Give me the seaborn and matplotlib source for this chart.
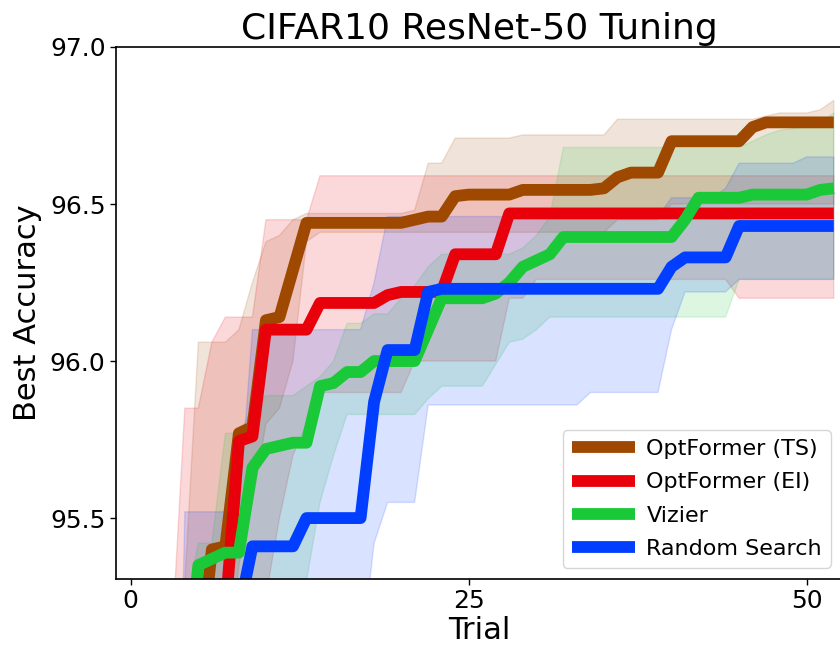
import numpy as np
import pandas as pd
import matplotlib
matplotlib.use("Agg")
import matplotlib.pyplot as plt
import seaborn as sns

# ---------------- data ----------------
trials = list(range(53))
series_names = ["OptFormer (TS)", "OptFormer (EI)", "Vizier", "Random Search"]

ts_mean = [93.8, 94.2, 94.5, 94.7, 94.9, 95.0, 95.40, 95.41, 95.77, 95.79,
           96.13, 96.14, 96.29, 96.44, 96.44, 96.44, 96.44, 96.44, 96.44, 96.44,
           96.44, 96.45, 96.46, 96.46, 96.525, 96.53, 96.53, 96.53, 96.53, 96.545,
           96.545, 96.545, 96.545, 96.545, 96.545, 96.55, 96.585, 96.60, 96.60, 96.60,
           96.70, 96.70, 96.70, 96.70, 96.70, 96.70, 96.745, 96.76, 96.76, 96.76,
           96.76, 96.76, 96.76]
ts_low = [92.5, 93.0, 93.4, 93.7, 94.0, 94.3, 94.6, 94.9, 95.35, 95.55,
          95.80, 95.85, 96.00, 96.38, 96.41, 96.41, 96.41, 96.41, 96.41, 96.41,
          96.41, 96.41, 96.41, 96.41, 96.41, 96.41, 96.41, 96.41, 96.41, 96.41,
          96.41, 96.41, 96.41, 96.41, 96.41, 96.41, 96.45, 96.45, 96.45, 96.45,
          96.50, 96.50, 96.50, 96.50, 96.50, 96.50, 96.50, 96.50, 96.50, 96.50,
          96.50, 96.50, 96.50]
ts_high = [94.5, 94.8, 95.0, 95.2, 95.3, 96.06, 96.06, 96.06, 96.10, 96.25,
           96.38, 96.40, 96.45, 96.47, 96.47, 96.47, 96.47, 96.47, 96.47, 96.47,
           96.47, 96.48, 96.63, 96.63, 96.71, 96.71, 96.71, 96.71, 96.71, 96.72,
           96.72, 96.72, 96.72, 96.72, 96.72, 96.72, 96.77, 96.77, 96.77, 96.77,
           96.77, 96.77, 96.77, 96.77, 96.77, 96.77, 96.77, 96.78, 96.79, 96.79,
           96.79, 96.80, 96.83]

ei_mean = [93.5, 93.9, 94.2, 94.5, 94.7, 94.9, 95.05, 95.2, 95.745, 95.76,
           96.10, 96.10, 96.10, 96.10, 96.185, 96.185, 96.185, 96.185, 96.185, 96.21,
           96.22, 96.22, 96.22, 96.22, 96.34, 96.34, 96.34, 96.34, 96.47, 96.47,
           96.47, 96.47, 96.47, 96.47, 96.47, 96.47, 96.47, 96.47, 96.47, 96.47,
           96.47, 96.47, 96.47, 96.47, 96.47, 96.47, 96.47, 96.47, 96.47, 96.47,
           96.47, 96.47, 96.47]
ei_low = [93.0, 93.3, 93.6, 93.9, 94.2, 94.5, 94.7, 94.9, 95.0, 95.1,
          95.25, 95.5, 95.7, 95.8, 95.9, 95.9, 95.9, 95.9, 95.9, 95.9,
          95.9, 96.0, 96.0, 96.0, 96.0, 96.0, 96.0, 96.0, 96.2, 96.2,
          96.26, 96.26, 96.26, 96.26, 96.26, 96.26, 96.26, 96.26, 96.26, 96.26,
          96.26, 96.26, 96.26, 96.26, 96.26, 96.20, 96.20, 96.20, 96.20, 96.20,
          96.20, 96.20, 96.20]
ei_high = [94.5, 94.8, 95.0, 95.08, 95.85, 95.85, 96.06, 96.14, 96.14, 96.14,
           96.45, 96.45, 96.45, 96.45, 96.59, 96.59, 96.59, 96.59, 96.59, 96.59,
           96.59, 96.59, 96.59, 96.59, 96.59, 96.59, 96.59, 96.59, 96.59, 96.59,
           96.59, 96.59, 96.59, 96.59, 96.59, 96.59, 96.59, 96.59, 96.59, 96.59,
           96.59, 96.59, 96.59, 96.59, 96.59, 96.59, 96.59, 96.59, 96.59, 96.59,
           96.59, 96.59, 96.59]

viz_mean = [94.6, 94.7, 94.8, 94.85, 94.9, 95.35, 95.37, 95.39, 95.39, 95.66,
            95.72, 95.73, 95.74, 95.74, 95.92, 95.93, 95.965, 95.965, 96.00, 96.00,
            96.00, 96.00, 96.10, 96.20, 96.20, 96.20, 96.20, 96.215, 96.25, 96.30,
            96.32, 96.34, 96.395, 96.395, 96.395, 96.395, 96.395, 96.395, 96.395, 96.395,
            96.395, 96.45, 96.52, 96.52, 96.52, 96.52, 96.53, 96.53, 96.53, 96.53,
            96.53, 96.545, 96.55]
viz_low = [94.0, 94.2, 94.4, 94.6, 94.8, 94.9, 95.0, 95.05, 95.1, 95.15,
           95.2, 95.22, 95.25, 95.30, 95.55, 95.70, 95.83, 95.83, 95.83, 95.83,
           95.83, 95.83, 95.88, 95.92, 95.92, 95.92, 95.92, 95.99, 96.06, 96.07,
           96.10, 96.14, 96.14, 96.14, 96.14, 96.14, 96.14, 96.14, 96.14, 96.14,
           96.14, 96.14, 96.14, 96.14, 96.14, 96.26, 96.26, 96.26, 96.26, 96.26,
           96.26, 96.26, 96.26]
viz_high = [94.6, 94.8, 95.0, 95.1, 95.2, 95.42, 95.42, 95.77, 95.77, 95.85,
            95.89, 95.89, 95.89, 95.92, 95.95, 96.00, 96.12, 96.12, 96.15, 96.15,
            96.20, 96.24, 96.30, 96.34, 96.34, 96.34, 96.34, 96.34, 96.34, 96.36,
            96.40, 96.46, 96.68, 96.68, 96.68, 96.68, 96.68, 96.68, 96.68, 96.68,
            96.68, 96.68, 96.68, 96.68, 96.68, 96.68, 96.70, 96.72, 96.735, 96.74,
            96.75, 96.76, 96.79]

rs_mean = [93.0, 93.5, 93.9, 94.2, 94.5, 94.7, 94.9, 95.05, 95.2, 95.41,
           95.41, 95.41, 95.41, 95.50, 95.50, 95.50, 95.50, 95.50, 95.87, 96.035,
           96.035, 96.035, 96.22, 96.23, 96.23, 96.23, 96.23, 96.23, 96.23, 96.23,
           96.23, 96.23, 96.23, 96.23, 96.23, 96.23, 96.23, 96.23, 96.23, 96.23,
           96.30, 96.33, 96.33, 96.33, 96.33, 96.43, 96.43, 96.43, 96.43, 96.43,
           96.43, 96.43, 96.43]
rs_low = [92.0, 92.2, 92.4, 92.6, 92.8, 93.0, 93.2, 93.4, 93.6, 93.8,
          94.0, 94.2, 94.4, 94.6, 94.7, 94.8, 94.9, 95.04, 95.42, 95.55,
          95.55, 95.55, 95.86, 95.86, 95.86, 95.86, 95.86, 95.86, 95.86, 95.86,
          95.86, 95.86, 95.86, 95.86, 95.90, 95.90, 95.90, 95.90, 95.90, 95.90,
          96.10, 96.22, 96.22, 96.22, 96.22, 96.26, 96.26, 96.26, 96.26, 96.26,
          96.26, 96.26, 96.26]
rs_high = [94.5, 94.8, 95.0, 93.5, 95.52, 95.52, 95.52, 95.52, 95.52, 96.10,
           96.10, 96.10, 96.10, 96.10, 96.10, 96.10, 96.10, 96.10, 96.25, 96.46,
           96.46, 96.46, 96.46, 96.46, 96.46, 96.46, 96.46, 96.46, 96.46, 96.46,
           96.46, 96.46, 96.46, 96.46, 96.46, 96.46, 96.46, 96.46, 96.46, 96.46,
           96.52, 96.52, 96.52, 96.52, 96.55, 96.63, 96.63, 96.63, 96.63, 96.63,
           96.65, 96.65, 96.65]

x_ticks = [0, 25, 50]
y_ticks = [95.5, 96.0, 96.5, 97.0]

# ---------------- plot ----------------
sns.set_theme(style="ticks")
plt.rcParams["font.family"] = ["DejaVu Sans"]
plt.rcParams["text.color"] = "black"
plt.rcParams["axes.labelcolor"] = "black"

colors = ["#9F4800", "#E8000B", "#1AC938", "#023EFF"]
means = [ts_mean, ei_mean, viz_mean, rs_mean]
lows = [ts_low, ei_low, viz_low, rs_low]
highs = [ts_high, ei_high, viz_high, rs_high]

fig = plt.figure(figsize=(8.4, 6.49), dpi=100)
ax = fig.add_axes([116 / 840, 70 / 649, 726 / 840, 532 / 649])

for name, m, lo, hi, c in zip(series_names, means, lows, highs, colors):
    ax.fill_between(trials, lo, hi, color=c, alpha=0.15, linewidth=1)

for name, m, c in zip(series_names, means, colors):
    df = pd.DataFrame({"Trial": trials, "acc": m})
    sns.lineplot(data=df, x="Trial", y="acc", ax=ax, color=c, linewidth=8.5,
                 label=name, solid_capstyle="butt")

ax.set_xlim(-1.09, 52.61)
ax.set_ylim(95.306, 97.0)
ax.set_xticks(x_ticks)
ax.set_yticks(y_ticks)
ax.set_yticklabels([f"{v:.1f}" for v in y_ticks])
ax.tick_params(labelsize=18, length=4, width=1, colors="black")
for s in ax.spines.values():
    s.set_color("black")
    s.set_linewidth(1.2)

ax.set_xlabel("Trial", fontsize=22, labelpad=2, color="black")
ax.set_ylabel("Best Accuracy", fontsize=22, labelpad=5.5, color="black")
ax.set_title("CIFAR10 ResNet-50 Tuning", fontsize=26, pad=6, color="black")

leg = ax.legend(loc="lower right", fontsize=16, handlelength=2.85,
                handletextpad=0.5, labelspacing=0.6, frameon=True,
                borderaxespad=0.5)
leg.get_frame().set_edgecolor("#cccccc")
for t in leg.get_texts():
    t.set_color("black")
for line in leg.get_lines():
    line.set_linewidth(8.5)

fig.savefig("out.png", dpi=100)
